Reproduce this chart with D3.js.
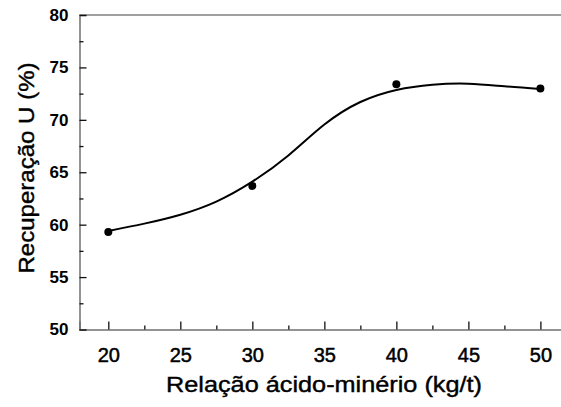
<!DOCTYPE html>
<html>
<head>
<meta charset="utf-8">
<script src="https://cdn.jsdelivr.net/npm/d3@7.9.0/dist/d3.min.js"></script>
<style>
  body { margin: 0; background: #fff; }
  svg { display: block; font-family: "Liberation Sans", Arial, sans-serif; }
</style>
</head>
<body>
<svg id="chart" width="561" height="407"></svg>
<script>
// measured points
const ratio = [20, 30, 40, 50];
const recovery = [59.3, 63.7, 73.4, 73.0];

// fitted curve
const curveX = [20, 22.5, 25, 27.5, 30, 32.5, 35, 37.5, 40, 42.5, 45, 47.5, 50];
const curveY = [59.4, 60.1, 60.95, 62.2, 64.1, 66.6, 69.55, 71.7, 72.85, 73.35, 73.45, 73.2, 72.95];

const xTicks = [20, 25, 30, 35, 40, 45, 50];
const xMinor = [22.5, 27.5, 32.5, 37.5, 42.5, 47.5];
const yTicks = [50, 55, 60, 65, 70, 75, 80];
const yMinor = [52.5, 57.5, 62.5, 67.5, 72.5, 77.5];

const svg = d3.select('#chart');

const x = d3.scaleLinear().domain([18, 51.5]).range([79.5, 562]);
const y = d3.scaleLinear().domain([50, 80]).range([329.5, 15]);

// top edge of the frame
svg.append('line')
    .attr('x1', x(18)).attr('x2', 562)
    .attr('y1', y(80)).attr('y2', y(80))
    .attr('stroke', '#808080').attr('stroke-width', 1.5);

const xAxis = svg.append('g')
    .attr('transform', `translate(0,${y(50)})`)
    .call(d3.axisBottom(x).tickValues(xTicks).tickSize(-8).tickPadding(18).tickFormat(d3.format('d')));
xAxis.append('g')
    .call(d3.axisBottom(x).tickValues(xMinor).tickSize(-4).tickFormat(''))
    .select('.domain').remove();

const yAxis = svg.append('g')
    .attr('transform', `translate(${x(18)},0)`)
    .call(d3.axisLeft(y).tickValues(yTicks).tickSize(-7).tickPadding(11).tickFormat(d3.format('d')));
yAxis.append('g')
    .call(d3.axisLeft(y).tickValues(yMinor).tickSize(-4).tickFormat(''))
    .select('.domain').remove();

svg.selectAll('.domain').attr('stroke', '#707070').attr('stroke-width', 1.5);
svg.selectAll('.tick line').attr('stroke', '#111').attr('stroke-width', 1.3);

xAxis.selectAll('.tick text')
    .attr('font-size', 20).attr('font-weight', 'normal').attr('fill', '#000')
    .attr('stroke', '#000').attr('stroke-width', 0.5)
    .style('font-family', '"Liberation Sans", Arial, sans-serif');
yAxis.selectAll('.tick text')
    .attr('font-size', 17).attr('font-weight', 'bold').attr('fill', '#000')
    .style('font-family', '"Liberation Sans", Arial, sans-serif');

// curve
const pts = curveX.map((d, i) => [d, curveY[i]]);
svg.append('path')
    .datum(pts)
    .attr('fill', 'none')
    .attr('stroke', '#000')
    .attr('stroke-width', 2)
    .attr('d', d3.line().x(d => x(d[0])).y(d => y(d[1])).curve(d3.curveNatural));

// markers
svg.selectAll('circle.pt')
    .data(ratio)
    .join('circle')
    .attr('class', 'pt')
    .attr('cx', d => x(d))
    .attr('cy', (d, i) => y(recovery[i]))
    .attr('r', 4)
    .attr('fill', '#000');

// titles
svg.append('text')
    .attr('x', 324).attr('y', 392)
    .attr('text-anchor', 'middle')
    .attr('font-size', 22)
    .attr('stroke', '#000').attr('stroke-width', 0.4)
    .attr('textLength', 316).attr('lengthAdjust', 'spacingAndGlyphs')
    .text('Relação ácido-minério (kg/t)');

svg.append('text')
    .attr('transform', `translate(34,${168}) rotate(-90)`)
    .attr('text-anchor', 'middle')
    .attr('font-size', 22)
    .attr('stroke', '#000').attr('stroke-width', 0.4)
    .attr('textLength', 211).attr('lengthAdjust', 'spacingAndGlyphs')
    .text('Recuperação U (%)');
</script>
</body>
</html>
